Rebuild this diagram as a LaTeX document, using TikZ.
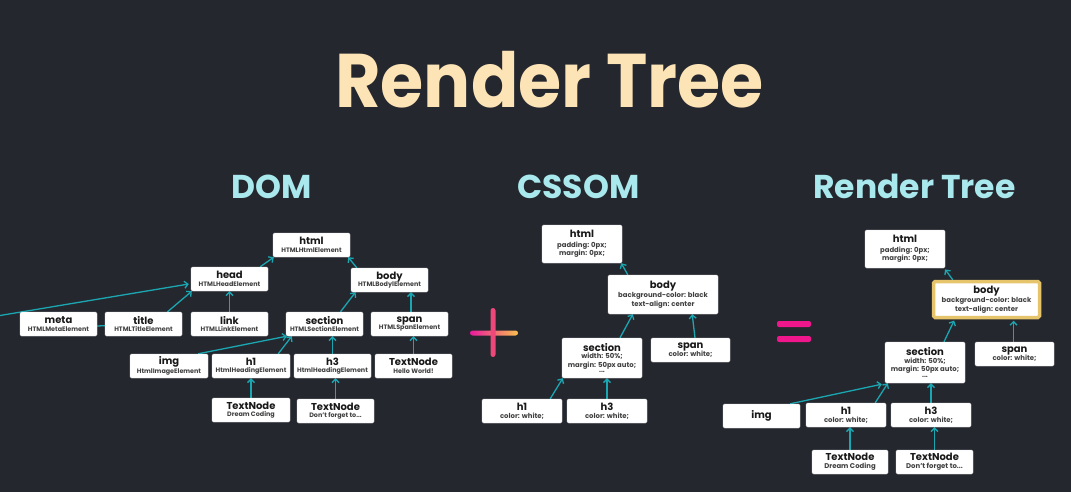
\documentclass[tikz,border=0pt]{standalone}
\usepackage{fontspec}
\setmainfont{Poppins}
\usetikzlibrary{arrows.meta}
\pgfdeclarelayer{backdrop}
\pgfdeclarelayer{wires}
\pgfsetlayers{backdrop,wires,main}
\definecolor{bg}{HTML}{24272E}
\definecolor{conn}{HTML}{1AA7B2}
\definecolor{cream}{HTML}{FDE4B6}
\definecolor{aqua}{HTML}{A9E8EC}
\definecolor{subgray}{HTML}{404040}
\definecolor{gold}{HTML}{E6C46C}
\definecolor{eqpink}{HTML}{F0168C}
\definecolor{plusv}{HTML}{EE4779}
\definecolor{plusl}{HTML}{E81A9C}
\definecolor{plusr}{HTML}{F7C04F}
\newcommand{\bxname}[1]{{\fontsize{10}{10}\selectfont\color{black!90}#1}}
\newcommand{\bxsub}[1]{{\color{subgray}#1}}
\tikzset{
  box/.style={fill=white, draw=black!12, rounded corners=1.5pt, inner sep=0pt,
    align=center, minimum width=77pt, minimum height=24pt,
    font=\fontsize{6.4}{7.4}\selectfont\bfseries},
  cssbox/.style={box, font=\fontsize{6.9}{8.4}\selectfont\bfseries},
  gbox/.style={cssbox, draw=gold, line width=3.5pt},
  arr/.style={draw=conn, line width=1.3pt, -{Straight Barb[length=3.5pt,width=7pt]}},
  plain/.style={draw=conn, line width=1.3pt},
  heading/.style={text=aqua, font=\fontsize{33}{33}\selectfont\bfseries, anchor=base, inner sep=0pt},
}
\begin{document}
\begin{tikzpicture}[x=1pt,y=-1pt]
\begin{pgfonlayer}{backdrop}
\fill[bg] (0,0) rectangle (1071,492);
\end{pgfonlayer}
\useasboundingbox (0,0) rectangle (1071,492);

% titles
\node[text=cream, font=\fontsize{76}{76}\selectfont\bfseries, anchor=base, inner sep=0pt] (maintitle) at (549.5,108) {\scalebox{0.92}[1]{Render Tree}};
\node[heading] (hdom) at (272,198) {DOM};
\node[heading] (hcssom) at (578.5,198) {CSSOM};
\node[heading] (hrender) at (914.5,198) {Render Tree};

% ---------- DOM ----------
\coordinate (lft) at (0,315.5);
\node[box] (dhtml) at (311.5,245) {\bxname{html}\\\bxsub{HTMLHtmlElement}};
\node[box] (dhead) at (229.5,279) {\bxname{head}\\\bxsub{HTMLHeadElement}};
\node[box] (dbody) at (389.5,280) {\bxname{body}\\\bxsub{HTMLBodylElement}};
\node[box] (dmeta) at (58.5,324) {\bxname{meta}\\\bxsub{HTMLMetaElement}};
\node[box] (dtitle) at (143.5,324) {\bxname{title}\\\bxsub{HTMLTitleElement}};
\node[box] (dlink) at (229.5,324) {\bxname{link}\\\bxsub{HTMLLinkElement}};
\node[box] (dsection) at (324.5,324) {\bxname{section}\\\bxsub{HTMLSectionElement}};
\node[box] (dspan) at (409.5,324) {\bxname{span}\\\bxsub{HTMLSpanElement}};
\node[box, minimum width=78pt] (dimg) at (169,366) {\bxname{img}\\\bxsub{HtmlImageElement}};
\node[box, minimum width=78pt] (dh1) at (251,366) {\bxname{h1}\\\bxsub{HtmlHeadingElement}};
\node[box] (dh3) at (332.5,366) {\bxname{h3}\\\bxsub{HtmlHeadingElement}};
\node[box] (dtxt) at (413.5,366) {\bxname{TextNode}\\\bxsub{Hello World!}};
\node[box, minimum width=78pt] (dtxta) at (251,410) {\bxname{TextNode}\\\bxsub{Dream Coding}};
\node[box] (dtxtb) at (335.5,411) {\bxname{TextNode}\\\bxsub{Don't forget to...}};

\begin{pgfonlayer}{wires}
\draw[arr] ([xshift=-8pt]dhead.north east) -- ([xshift=1pt]dhtml.south west);
\draw[arr] ([xshift=6pt]dbody.north west) -- ([xshift=-2pt]dhtml.south east);
\draw[arr] (lft) -- ([xshift=-2pt,yshift=-5pt]dhead.west);
\draw[plain] ([yshift=-2pt]dmeta.east) -- (dtitle.center);
\draw[arr] ([xshift=24pt]dtitle.north) -- ([xshift=1pt]dhead.south west);
\draw[arr] (dlink.north) -- (dhead.south);
\draw[arr] ([xshift=16pt]dsection.north) -- ([xshift=-34pt]dbody.south);
\draw[arr] ([xshift=1.5pt]dspan.north) -- ([xshift=21.5pt]dbody.south);
\draw[arr] ([xshift=-10pt]dimg.north east) -- ([xshift=1pt]dsection.south west);
\draw[arr] ([xshift=-12pt]dh1.north east) -- ([xshift=6pt]dsection.south west);
\draw[arr] (dh3.north) -- (dh3.north |- dsection.south);
\draw[arr] (dtxt.north) -- (dtxt.north |- dspan.south);
\draw[arr] (dtxta.north) -- (dtxta.north |- dh1.south);
\draw[arr] (dtxtb.north) -- (dtxtb.north |- dh3.south);
\end{pgfonlayer}

% ---------- CSSOM ----------
\node[cssbox, minimum width=80pt, minimum height=38pt] (chtml) at (582,244) {\bxname{html}\\[1pt]\bxsub{padding: 0px;}\\\bxsub{margin: 0px;}};
\node[cssbox, minimum width=110pt, minimum height=39pt] (cbody) at (663,294.5) {\bxname{body}\\[1pt]\bxsub{background-color: black}\\\bxsub{text-align: center}};
\node[cssbox, minimum width=80pt, minimum height=40pt] (csection) at (602,358) {\bxname{section}\\[-1pt]\bxsub{width: 50\%;}\\\bxsub{margin: 50px auto;}\\[-3pt]\bxsub{...}};
\node[cssbox, minimum width=79pt] (cspan) at (690.5,350) {\bxname{span}\\\bxsub{color: white;}};
\node[cssbox, minimum width=80pt] (ch1) at (522,411) {\bxname{h1}\\\bxsub{color: white;}};
\node[cssbox, minimum width=80pt] (ch3) at (607,411) {\bxname{h3}\\\bxsub{color: white;}};

\begin{pgfonlayer}{wires}
\draw[arr] ([xshift=20pt]cbody.north west) -- ([xshift=-1pt]chtml.south east);
\draw[arr] ([xshift=18pt]csection.north) -- ([xshift=25pt]cbody.south west);
\draw[arr] ([xshift=4.5pt]cspan.north) -- ([xshift=-26pt]cbody.south east);
\draw[arr] ([xshift=-12pt]ch1.north east) -- ([xshift=1pt]csection.south west);
\draw[arr] (ch3.north) -- (ch3.north |- csection.south);
\end{pgfonlayer}

% ---------- plus and equals ----------
\shade[left color=plusl, right color=plusr, rounded corners=2.5pt] (470,330.5) rectangle (518,335.5);
\fill[plusv, rounded corners=2.5pt] (490.5,308) rectangle (495.5,357);
\fill[eqpink, rounded corners=2pt] (777,321) rectangle (811,327);
\fill[eqpink, rounded corners=2pt] (777,336) rectangle (811,342);

% ---------- Render Tree ----------
\node[cssbox, minimum width=80pt, minimum height=38pt] (rhtml) at (905,249) {\bxname{html}\\[1pt]\bxsub{padding: 0px;}\\\bxsub{margin: 0px;}};
\node[gbox, minimum width=106pt, minimum height=36pt] (rbody) at (986.5,299.5) {\bxname{body}\\[1pt]\bxsub{background-color: black}\\\bxsub{text-align: center}};
\node[cssbox, minimum width=80pt, minimum height=41pt] (rsection) at (925,362.5) {\bxname{section}\\[-1pt]\bxsub{width: 50\%;}\\\bxsub{margin: 50px auto;}\\[-3pt]\bxsub{...}};
\node[cssbox, minimum width=79pt] (rspan) at (1014.5,354) {\bxname{span}\\\bxsub{color: white;}};
\node[cssbox] (rimg) at (761.5,416) {\bxname{img}};
\node[cssbox, minimum width=80pt] (rh1) at (846,415) {\bxname{h1}\\\bxsub{color: white;}};
\node[cssbox, minimum width=80pt] (rh3) at (931,415) {\bxname{h3}\\\bxsub{color: white;}};
\node[cssbox, minimum width=76pt] (rtxta) at (850,462) {\bxname{TextNode}\\\bxsub{Dream Coding}};
\node[cssbox] (rtxtb) at (934.5,462) {\bxname{TextNode}\\\bxsub{Don't forget to...}};

\begin{pgfonlayer}{wires}
\draw[arr, shorten >=1.5pt] ([xshift=21pt]rbody.north west) -- ([xshift=-1pt]rhtml.south east);
\draw[arr, shorten >=1.5pt] ([xshift=19pt]rsection.north) -- ([xshift=23pt]rbody.south west);
\draw[arr, shorten >=1.5pt] ([xshift=-1pt]rspan.north) -- ([xshift=-1pt]rspan.north |- rbody.south);
\draw[arr] ([xshift=-10pt]rimg.north east) -- ([xshift=-3pt,yshift=-1pt]rsection.south west);
\draw[arr] ([xshift=-11pt]rh1.north east) -- ([xshift=3pt]rsection.south west);
\draw[arr] (rh3.north) -- (rh3.north |- rsection.south);
\draw[arr] (rtxta.north) -- (rtxta.north |- rh1.south);
\draw[arr] (rtxtb.north) -- (rtxtb.north |- rh3.south);
\end{pgfonlayer}
\end{tikzpicture}
\end{document}
